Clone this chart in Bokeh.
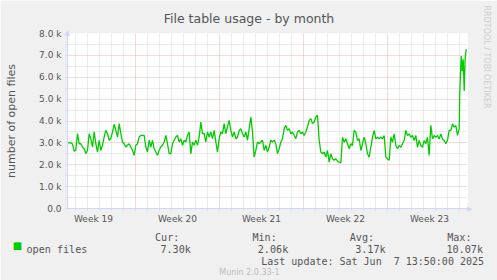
from math import pi
from bokeh.plotting import figure
from bokeh.models import Range1d, FixedTicker, Label, ColumnDataSource
from bokeh.embed import file_html
from bokeh.resources import INLINE

# ---------------- data ----------------
TITLE = "File table usage - by month"
Y_LABEL = "number of open files"
SERIES_NAME = "open files"

WEEK_LABELS = ["Week 19", "Week 20", "Week 21", "Week 22", "Week 23"]
WEEK_MID_HOURS = [52, 220, 388, 556, 724]          # mid-week positions (hours since graph start)
WEEK_START_HOURS = [136, 304, 472, 640]            # Monday 00:00 boundaries
DAY_HOURS = [h for h in range(16, 800, 24) if h not in WEEK_START_HOURS]

Y_TICKS = [0, 1, 2, 3, 4, 5, 6, 7, 8]
Y_TICK_LABELS = ["0.0", "1.0 k", "2.0 k", "3.0 k", "4.0 k", "5.0 k", "6.0 k", "7.0 k", "8.0 k"]
Y_MINOR = [0.5, 1.5, 2.5, 3.5, 4.5, 5.5, 6.5, 7.5]

# open files (thousands), sampled every ~3.3 h from graph start
OPEN_FILES_K = [
    3.00, 3.00, 3.00, 2.95, 2.62, 2.66, 3.42, 2.96, 2.96, 2.81,
    2.73, 2.51, 2.66, 3.42, 3.19, 2.81, 3.50, 2.96, 2.58, 3.12,
    2.66, 2.89, 3.27, 3.57, 3.42, 3.12, 3.19, 3.50, 3.85, 3.57,
    3.27, 3.88, 3.42, 3.04, 2.96, 2.81, 2.89, 2.96, 2.81, 2.66,
    2.43, 2.89, 2.96, 3.27, 3.34, 3.34, 3.34, 2.81, 2.58, 3.12,
    2.81, 3.12, 2.73, 2.58, 2.43, 2.66, 2.81, 2.89, 3.04, 3.34,
    2.96, 2.51, 2.51, 2.96, 3.12, 3.27, 3.34, 3.04, 3.19, 2.89,
    3.12, 3.04, 3.34, 3.50, 2.51, 3.04, 2.89, 3.12, 2.89, 3.27,
    3.95, 3.42, 3.42, 3.04, 3.50, 3.27, 3.50, 3.19, 3.57, 3.04,
    2.58, 3.19, 3.50, 3.42, 3.88, 3.42, 3.73, 4.03, 3.57, 3.27,
    3.50, 3.19, 3.27, 3.57, 3.65, 3.42, 3.27, 3.50, 3.12, 3.65,
    4.18, 3.50, 2.35, 2.66, 3.04, 2.96, 3.04, 3.12, 2.66, 2.89,
    2.58, 2.81, 3.12, 3.04, 3.12, 2.96, 2.51, 2.73, 3.04, 3.19,
    3.65, 3.80, 3.57, 3.65, 3.42, 3.50, 3.34, 3.19, 3.50, 3.57,
    3.42, 3.50, 3.34, 3.50, 3.73, 4.03, 4.11, 3.88, 3.95, 4.18,
    4.26, 3.12, 2.58, 2.50, 2.58, 2.35, 2.65, 2.12, 2.50, 2.27,
    2.20, 2.27, 2.16, 2.12, 2.09, 3.26, 3.03, 3.19, 2.96, 2.73,
    2.96, 2.88, 3.57, 3.49, 3.11, 3.19, 2.65, 2.96, 3.26, 2.96,
    2.50, 2.35, 2.80, 3.26, 3.57, 3.19, 3.26, 3.19, 3.26, 3.19,
    3.34, 2.35, 2.27, 2.20, 3.26, 3.03, 3.41, 2.88, 2.73, 2.88,
    2.80, 2.96, 3.11, 3.57, 3.34, 3.41, 3.26, 3.34, 3.11, 3.34,
    2.80, 3.11, 2.88, 2.80, 3.11, 2.96, 3.26, 2.42, 3.80, 3.18,
    3.34, 3.26, 3.34, 3.18, 3.41, 3.18, 3.11, 2.96, 3.11, 3.57,
    3.57, 3.87, 3.72, 3.79, 3.34, 3.64,
]
SPIKE_HOURS = [784.6, 787.4, 789.4, 791.4, 793.4, 795.4, 797.4]
SPIKE_K = [5.37, 6.97, 6.29, 6.82, 5.37, 6.90, 7.28]

STAT_NAMES = ["Cur:", "Min:", "Avg:", "Max:"]
STAT_VALUES = ["7.30k", "2.06k", "3.17k", "10.07k"]
LAST_UPDATE = "Last update: Sat Jun  7 13:50:00 2025"
MUNIN_VERSION = "Munin 2.0.33-1"
WATERMARK = "RRDTOOL / TOBI OETIKER"

hours = [round(i * 10 / 3, 2) for i in range(len(OPEN_FILES_K))] + SPIKE_HOURS
values = OPEN_FILES_K + SPIKE_K

# ---------------- style ----------------
BACK = "#F0F0F0"
FONT = "#555555"
AXIS = "#CFD6F8"
GRID = "#D6D6D6"
MGRID = "#EDB3B3"
GREEN = "#00CC00"
SANS = "DejaVu Sans"
MONO = "DejaVu Sans Mono"
NB = "\u00a0"

FL, FR, FT, FB = 67, 467, 33, 208  # frame edges in canvas pixels
X0, X1, Y0, Y1 = 0, 800, 0, 8


def hx(X):  # canvas x pixel -> data hours
    return X0 + (X - FL) * (X1 - X0) / (FR - FL)


def vy(Y):  # canvas y pixel -> data value
    return Y0 + (FB - Y) * (Y1 - Y0) / (FB - FT)


p = figure(width=497, height=280, output_backend="svg", toolbar_location=None,
           x_range=Range1d(X0, X1), y_range=Range1d(Y0, Y1), title=None,
           min_border_left=FL, min_border_right=497 - FR, min_border_top=FT,
           min_border_bottom=280 - FB)
p.background_fill_color = "white"
p.border_fill_color = BACK
p.outline_line_color = None

# grids
p.xgrid.ticker = FixedTicker(ticks=WEEK_START_HOURS, minor_ticks=DAY_HOURS)
p.ygrid.ticker = FixedTicker(ticks=Y_TICKS[1:], minor_ticks=Y_MINOR)
for g in (p.xgrid, p.ygrid):
    g.grid_line_color = MGRID
    g.grid_line_dash = "1 1"
    g.grid_line_width = 1
    g.minor_grid_line_color = GRID
    g.minor_grid_line_dash = "1 1"
    g.minor_grid_line_width = 1
    g.level = "underlay"

# axes
xa = p.xaxis[0]
xa.ticker = FixedTicker(ticks=WEEK_MID_HOURS, minor_ticks=DAY_HOURS + WEEK_START_HOURS)
xa.major_label_overrides = {h: l for h, l in zip(WEEK_MID_HOURS, WEEK_LABELS)}
xa.major_tick_out = 0
xa.major_tick_in = 0
xa.minor_tick_out = 2
xa.minor_tick_in = 0
xa.minor_tick_line_color = AXIS
xa.major_label_standoff = 3

ya = p.yaxis[0]
ya.ticker = FixedTicker(ticks=Y_TICKS, minor_ticks=Y_MINOR)
ya.major_label_overrides = {t: l for t, l in zip(Y_TICKS, Y_TICK_LABELS)}
ya.major_tick_out = 2
ya.major_tick_in = 0
ya.minor_tick_out = 2
ya.minor_tick_in = 0
ya.major_tick_line_color = AXIS
ya.minor_tick_line_color = AXIS
ya.major_label_standoff = 4
ya.axis_label = Y_LABEL
ya.axis_label_standoff = 18
ya.axis_label_text_font = SANS
ya.axis_label_text_font_size = "11px"
ya.axis_label_text_font_style = "normal"
ya.axis_label_text_color = FONT

for a in (xa, ya):
    a.axis_line_color = AXIS
    a.major_label_text_font = SANS
    a.major_label_text_font_size = "9px"
    a.major_label_text_color = FONT

# data line
src = ColumnDataSource(dict(h=hours, v=values))
p.line("h", "v", source=src, line_color=GREEN, line_width=1.3)


def lab(place, text, X, Y, size, font=MONO, color=FONT, align="left", baseline="alphabetic", angle=0.0):
    # labels live in side panels (not clipped to the frame), positioned through the plot scales
    p.add_layout(Label(x=hx(X), y=vy(Y), text=text,
                       text_font=font, text_font_size=size, text_color=color,
                       text_align=align, text_baseline=baseline, angle=angle), place)


# above
lab("above", TITLE, 248.5, 18.3, "12.5px", font=SANS, align="center")
lab("above", "\u25B2", 67, 32.5, "7px", font=SANS, color=AXIS, align="center")
# right
lab("right", WATERMARK, 486, 5, "8px", font=SANS, color="#CCCCCC", align="left", angle=-pi / 2)
lab("right", "\u25B6", 466.5, 208, "7px", font=SANS, color=AXIS, align="left", baseline="middle")
lab("right", "\u25A0", 17, 244.5, "10px", font=SANS, color=GREEN, align="center", baseline="middle")
# below: legend rows (monospace columns)
row1 = (NB * 12).join(STAT_NAMES)
row2 = (SERIES_NAME + NB * 12 + STAT_VALUES[0] + NB * 11 + STAT_VALUES[1] + NB * 11
        + STAT_VALUES[2] + NB * 10 + STAT_VALUES[3])
lab("below", row1, 154.5, 236.8, "10.12px")
lab("below", row2, 26, 249, "10.12px")
lab("below", LAST_UPDATE.replace("  ", " " + NB), 483.5, 260.8, "10px", align="right")
lab("below", MUNIN_VERSION, 249, 272.3, "8px", font=SANS, color="#BBBBBB", align="center")

open("out.html", "w").write(file_html(p, INLINE))
